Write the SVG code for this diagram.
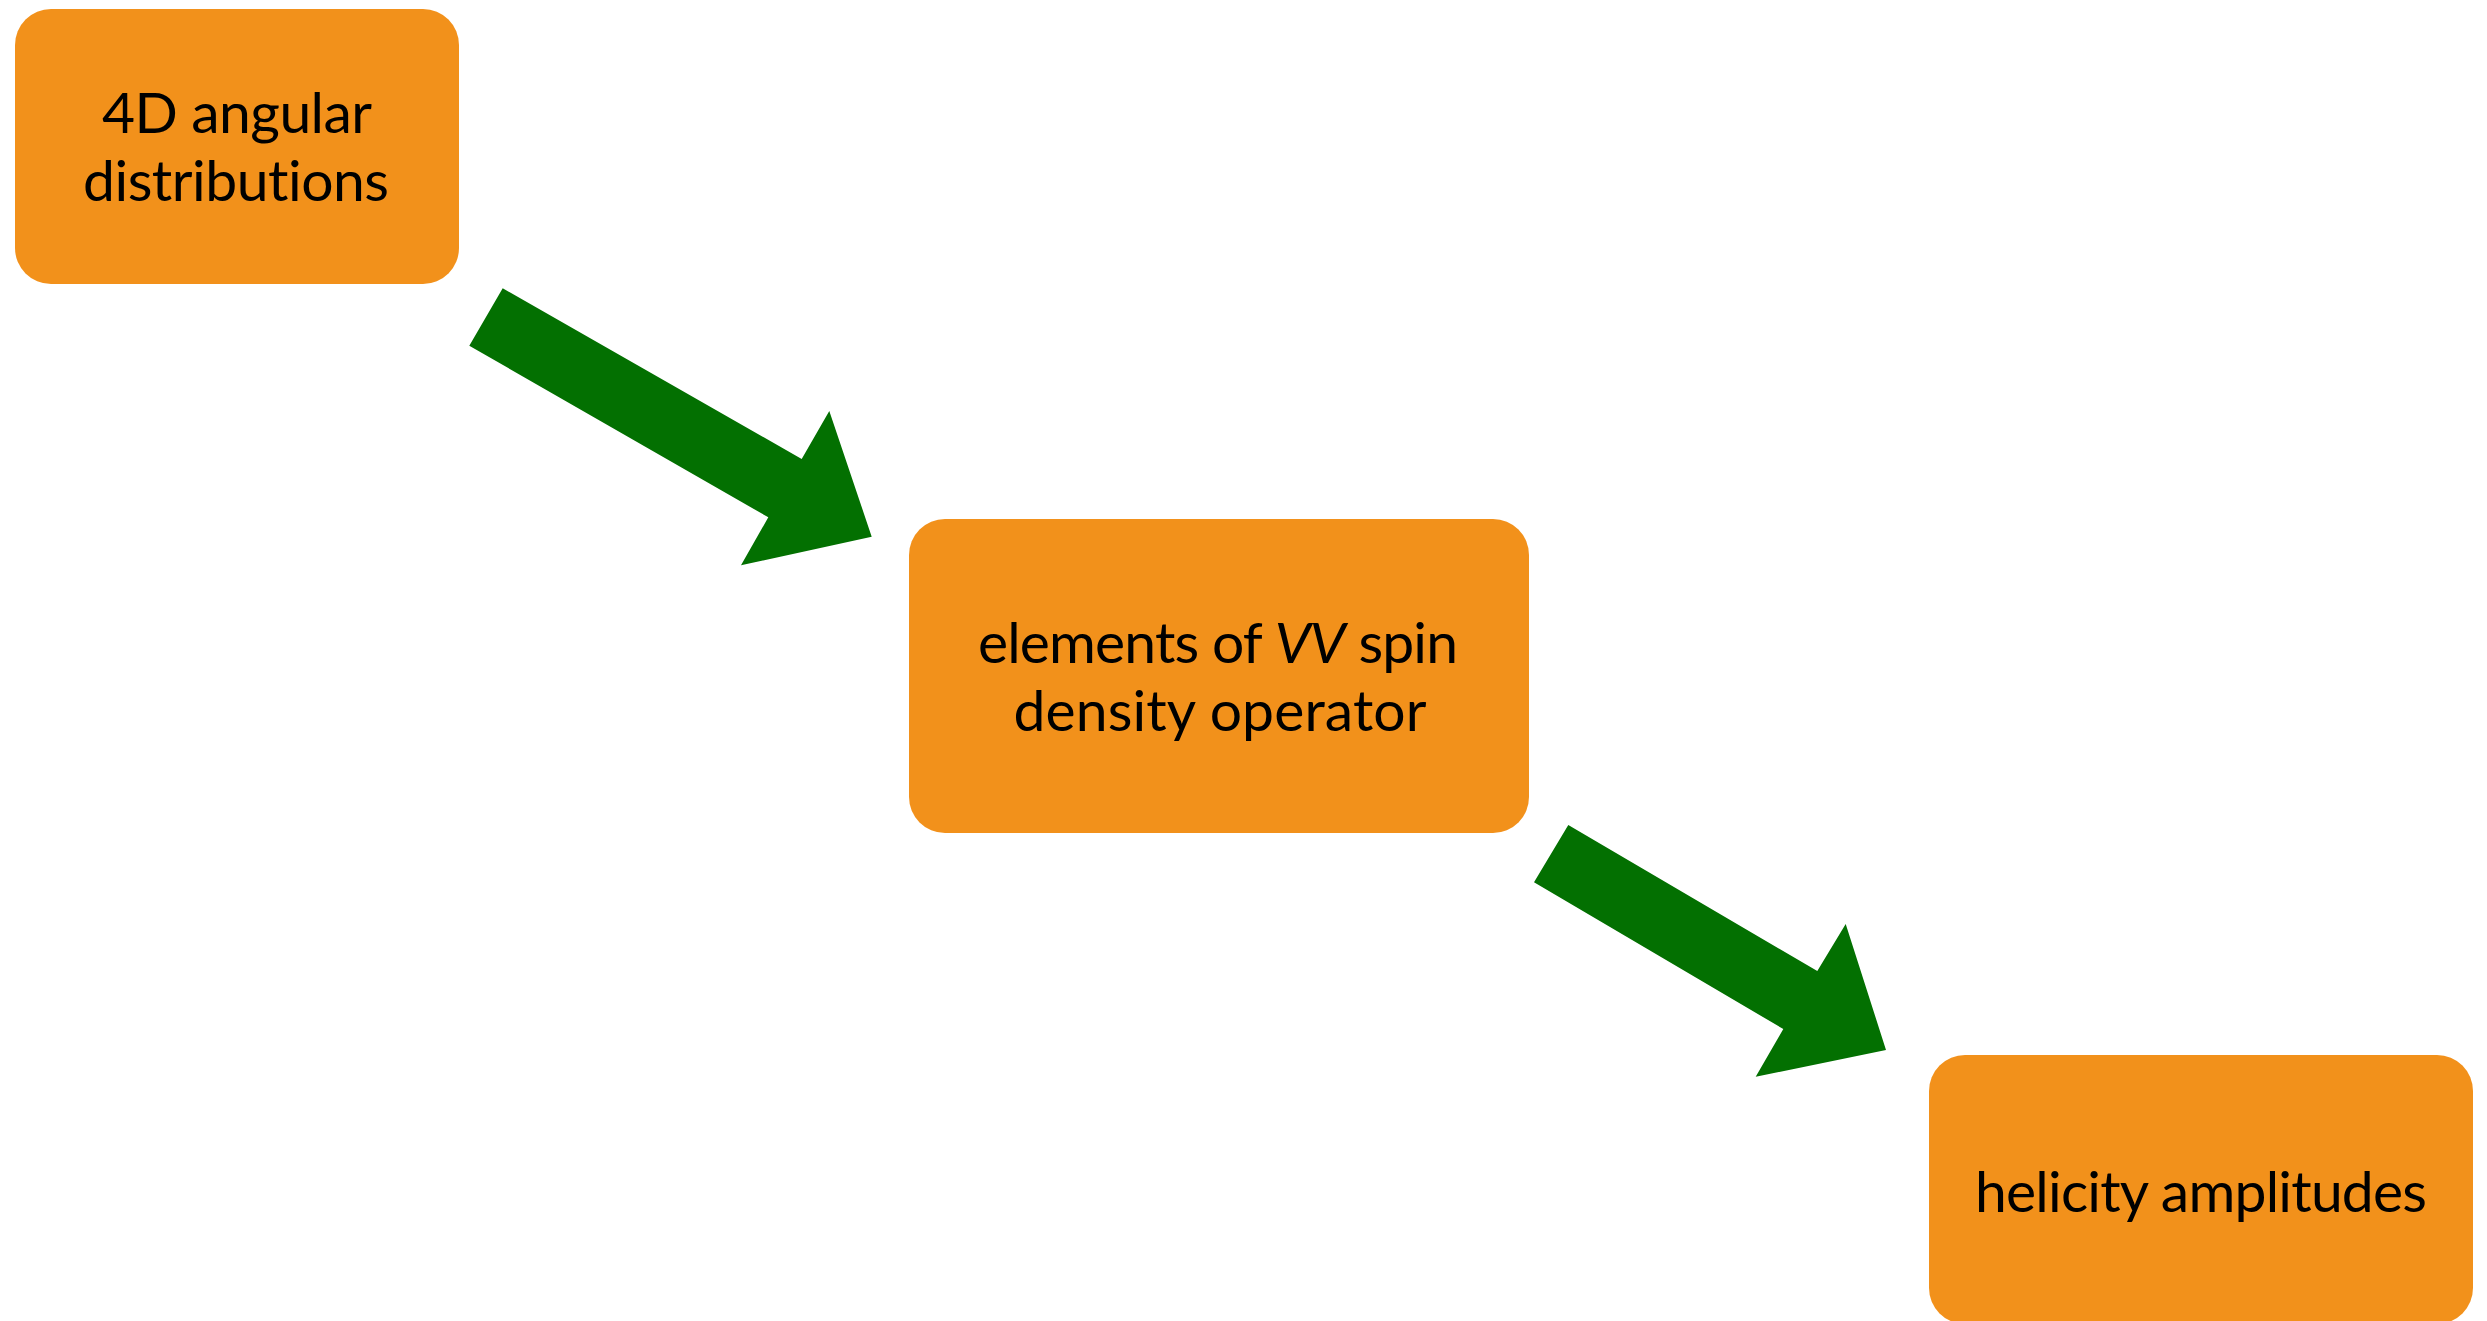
<svg xmlns="http://www.w3.org/2000/svg" width="2487" height="1321" viewBox="0 0 2487 1321">
<style>
.box{fill:#F2911B;}
.lbl{font-family:Lato,"Open Sans","Liberation Sans",sans-serif;font-size:57px;fill:#000;text-anchor:middle;font-variant-ligatures:none;}
.arrow{fill:#037001;}
</style>
<rect width="2487" height="1321" fill="#fff"/>
<g id="connectors">
<polygon class="arrow" points="502.7,288.3 801.7,459 829.3,411 871.7,536.7 741,565.3 768.3,517.3 469.3,345.7"/>
<polygon class="arrow" points="1568.3,825 1817.3,971 1845.7,924 1886,1050 1755.7,1076.7 1783.3,1029 1534,882.3"/>
</g>
<g id="node-4d">
<rect class="box" x="15" y="9" width="444" height="275" rx="36"/>
<text class="lbl" x="237" y="133" textLength="270">4D angular</text>
<text class="lbl" x="236" y="201" textLength="306">distributions</text>
</g>
<g id="node-vv">
<rect class="box" x="909" y="519" width="620" height="314" rx="36"/>
<text class="lbl" x="1218" y="663" textLength="480">elements of <tspan font-style="italic">VV</tspan> spin</text>
<text class="lbl" x="1220" y="731" textLength="413">density operator</text>
</g>
<g id="node-helicity">
<rect class="box" x="1929" y="1055" width="544" height="269" rx="36"/>
<text class="lbl" x="2201" y="1212" textLength="452">helicity amplitudes</text>
</g>
</svg>
